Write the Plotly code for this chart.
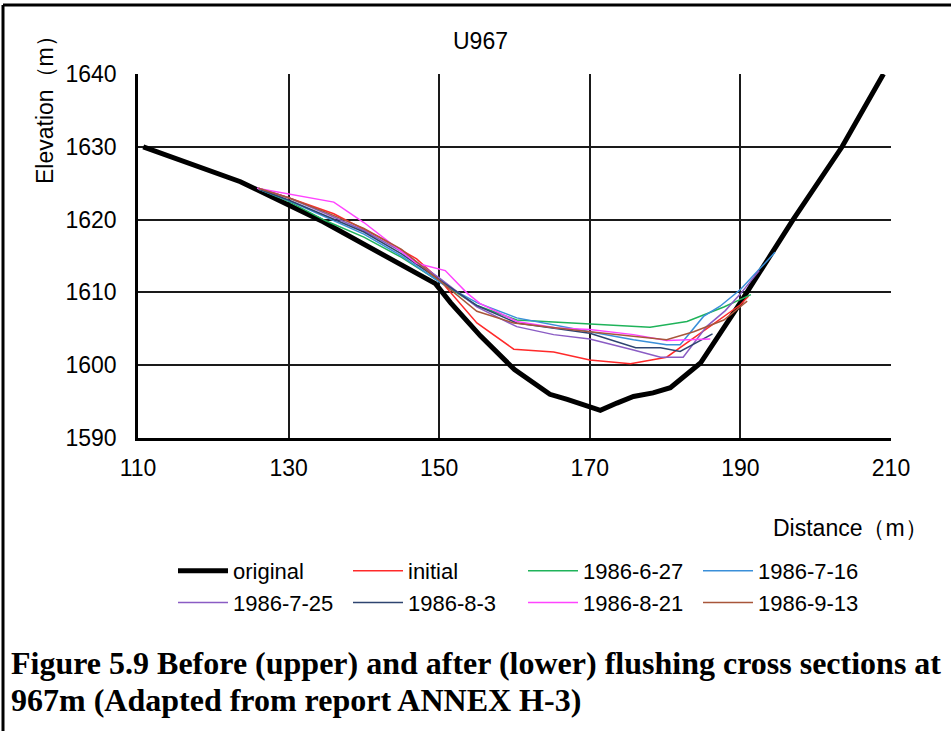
import plotly.graph_objects as go

# Cross-section U967: elevation (m) against distance (m)
original_x = [110.7, 123.6, 134.6, 149.5, 151.5, 155.5, 160.0, 164.7, 167.0, 169.2,
              171.4, 173.6, 175.8, 178.4, 180.7, 184.7, 190.0, 197.0, 203.5, 209.0]
original_y = [1630.0, 1625.2, 1619.7, 1611.2, 1608.6, 1604.0, 1599.4, 1596.0, 1595.3, 1594.6,
              1593.8, 1594.8, 1595.7, 1596.2, 1596.9, 1600.3, 1608.6, 1620.0, 1630.0, 1640.0]

initial_x = [126.0, 130.0, 136.0, 142.0, 147.0, 150.0, 155.0, 159.9, 165.2, 170.0, 175.4, 180.2, 190.0, 191.1]
initial_y = [1624.3, 1623.0, 1620.8, 1617.6, 1614.6, 1611.8, 1605.8, 1602.2, 1601.8, 1600.7, 1600.2, 1601.1, 1608.3, 1609.5]

d0627_x = [126.0, 130.0, 135.0, 140.0, 145.0, 150.0, 155.0, 160.3, 170.0, 178.0, 182.9, 187.8, 191.4]
d0627_y = [1624.2, 1622.5, 1619.8, 1617.6, 1614.8, 1611.5, 1608.2, 1606.2, 1605.7, 1605.2, 1606.0, 1608.0, 1609.7]

d0716_x = [126.0, 130.0, 135.0, 140.0, 145.0, 150.2, 155.0, 160.3, 170.0, 175.8, 180.2, 182.0, 185.1, 187.3, 190.0, 194.6]
d0716_y = [1624.2, 1622.6, 1620.3, 1618.0, 1615.0, 1611.3, 1608.6, 1606.5, 1604.6, 1603.5, 1602.8, 1602.8, 1606.7, 1608.1, 1610.4, 1615.5]

d0725_x = [126.0, 130.0, 135.0, 140.0, 145.0, 150.0, 155.0, 160.3, 165.2, 170.0, 175.8, 179.4, 182.4, 185.5, 188.0, 190.0, 192.5]
d0725_y = [1624.3, 1623.0, 1620.8, 1618.5, 1615.6, 1612.0, 1608.0, 1605.3, 1604.2, 1603.6, 1602.1, 1601.1, 1601.1, 1605.3, 1607.5, 1609.8, 1613.0]

d0803_x = [126.0, 130.0, 135.0, 140.0, 145.0, 150.0, 155.0, 160.3, 170.0, 176.1, 179.4, 182.0, 186.3]
d0803_y = [1624.2, 1622.7, 1620.5, 1618.3, 1615.3, 1611.7, 1608.2, 1605.8, 1604.4, 1602.4, 1602.4, 1601.9, 1604.3]

d0821_x = [125.8, 130.0, 136.0, 140.0, 147.0, 150.8, 153.7, 155.4, 160.3, 165.6, 170.0, 175.8, 180.2, 186.0]
d0821_y = [1624.3, 1623.5, 1622.4, 1619.6, 1614.0, 1613.0, 1609.9, 1608.5, 1606.0, 1605.1, 1604.9, 1604.2, 1603.4, 1603.6]

d0913_x = [126.0, 130.0, 135.0, 140.0, 145.0, 150.0, 155.0, 159.9, 170.0, 180.2, 183.8, 187.8, 190.9]
d0913_y = [1624.3, 1623.0, 1621.0, 1618.8, 1615.9, 1611.6, 1607.4, 1605.8, 1604.6, 1603.5, 1604.6, 1606.2, 1608.8]

x_ticks = [110, 130, 150, 170, 190, 210]
y_ticks = [1590, 1600, 1610, 1620, 1630, 1640]

series = [
    ("original", original_x, original_y, "#000000", 5),
    ("initial", initial_x, initial_y, "#ff2a2a", 1.5),
    ("1986-6-27", d0627_x, d0627_y, "#1fb35a", 1.5),
    ("1986-7-16", d0716_x, d0716_y, "#3a8fd9", 1.5),
    ("1986-7-25", d0725_x, d0725_y, "#8a5cc4", 1.5),
    ("1986-8-3", d0803_x, d0803_y, "#2e4470", 1.5),
    ("1986-8-21", d0821_x, d0821_y, "#ff44ff", 1.5),
    ("1986-9-13", d0913_x, d0913_y, "#a8563a", 1.5),
]

W, H = 951, 731
L, R, T, B = 138, 60, 74, 293
PW, PH = W - L - R, H - T - B

SANS = "Liberation Sans, Arial, sans-serif"
SERIF = "Liberation Serif, Times New Roman, serif"

fig = go.Figure()
for name, xs, ys, color, width in series:
    fig.add_trace(go.Scatter(x=xs, y=ys, mode="lines", name=name,
                             line=dict(color=color, width=width)))

axis_common = dict(
    showgrid=True, gridcolor="#1a1a1a", gridwidth=1.5,
    showline=True, linecolor="#000000", linewidth=2.5,
    ticks="", zeroline=False,
    tickfont=dict(family=SANS, size=23, color="#000000"),
)
fig.update_xaxes(range=[110, 210], tickvals=x_ticks, ticklabelstandoff=8, **axis_common)
fig.update_yaxes(range=[1590, 1640], tickvals=y_ticks, ticklabelstandoff=14, **axis_common)


def px_x(px):
    return (px - L) / PW


def px_y(py):
    return (H - B - py) / PH


label_font = dict(family=SANS, size=23, color="#000000")
anns = [
    dict(text="U967", x=px_x(480), y=px_y(41), textangle=0),
    dict(text="Distance（m）", x=px_x(850), y=px_y(528), textangle=0),
    dict(text="Elevation（m）", x=px_x(45), y=px_y(104), textangle=-90),
]
for a in anns:
    a.update(xref="paper", yref="paper", xanchor="center", yanchor="middle",
             showarrow=False, font=label_font)

caption_lines = [
    ("Figure 5.9 Before (upper) and after (lower) flushing cross sections at", 663),
    ("967m (Adapted from report ANNEX H-3)", 700),
]
for text, py in caption_lines:
    anns.append(dict(text="<b>" + text + "</b>", x=px_x(9), y=px_y(py),
                     xref="paper", yref="paper", xanchor="left", yanchor="middle",
                     showarrow=False,
                     font=dict(family=SERIF, size=32, color="#000000")))

# outer frame (left and top edges)
frame = [
    dict(type="line", xref="paper", yref="paper", x0=px_x(3), x1=px_x(3),
         y0=px_y(5), y1=px_y(H + 5), line=dict(color="#000000", width=3)),
    dict(type="line", xref="paper", yref="paper", x0=px_x(3), x1=px_x(W + 5),
         y0=px_y(5), y1=px_y(5), line=dict(color="#000000", width=3)),
]

fig.update_layout(
    width=W, height=H,
    margin=dict(l=L, r=R, t=T, b=B, autoexpand=False),
    paper_bgcolor="#ffffff", plot_bgcolor="#ffffff",
    showlegend=True,
    legend=dict(orientation="h", xref="container", yref="container",
                x=173 / W, y=1 - 550 / H, xanchor="left", yanchor="top",
                itemwidth=50, entrywidth=110, entrywidthmode="pixels",
                font=dict(family=SANS, size=22, color="#000000"),
                bgcolor="rgba(0,0,0,0)", traceorder="normal"),
    annotations=anns,
    shapes=frame,
)

fig.write_html("out.html")
